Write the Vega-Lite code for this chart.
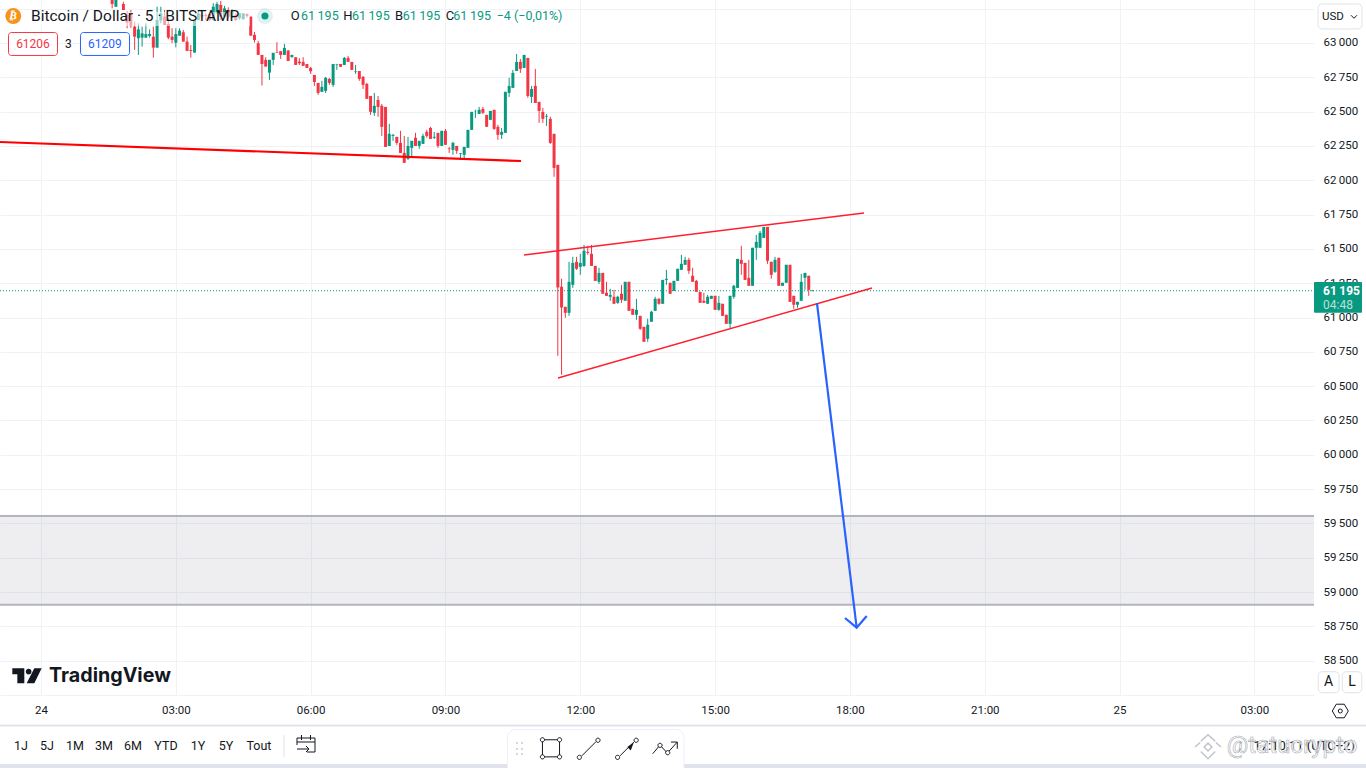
{"$schema":"https://vega.github.io/schema/vega-lite/v6.json","width":1314,"height":695,"autosize":{"type":"none"},"padding":{"left":0,"top":0,"right":52,"bottom":73},"background":"#ffffff","config":{"view":{"stroke":null},"text":{"font":"Roboto"}},
"encoding":{"x":{"type":"quantitative","title":null,"scale":{"domain":[-54.74,1699.6],"nice":false,"zero":false,"padding":0},"axis":{"orient":"bottom","values":[0,180,360,540,720,900,1080,1260,1440,1620],"labelExpr":"datum.value==0?'24':datum.value==1440?'25':format((datum.value%1440)/60,'02')+':00'","grid":true,"gridColor":"#f0f2f6","gridWidth":1,"domain":true,"domainColor":"#f0f2f6","domainWidth":1,"ticks":false,"labelFont":"Roboto","labelFontSize":11.5,"labelColor":"#131722","labelPadding":9,"labelAngle":0,"title":null}},"y":{"type":"quantitative","title":null,"scale":{"domain":[58250,63313],"nice":false,"zero":false,"padding":0},"axis":{"orient":"right","values":[58500,58750,59000,59250,59500,59750,60000,60250,60500,60750,61000,61250,61500,61750,62000,62250,62500,62750,63000,63250],"labelExpr":"datum.value>=63250?'':replace(format(datum.value,','),',','\u2009')","grid":true,"gridColor":"#f0f2f6","gridWidth":1,"domain":false,"ticks":false,"labelFont":"Roboto","labelFontSize":11.5,"labelColor":"#131722","labelPadding":9,"title":null}}},
"datasets":{
"zone":[{"t0":-54.74,"t1":1699.6,"p0":58907.8,"p1":59554}],
"price":[{"t0":-54.74,"t1":1699.6,"p":61195}],
"heavy":[{"t":-54.74,"p":62278.5},{"t":640.9,"p":62140.1}],
"thin":[{"id":"a","t":644.9,"p":61455.3},{"id":"a","t":1098.8,"p":61761.3},{"id":"b","t":690.3,"p":60559.3},{"id":"b","t":1109.5,"p":61215}],
"arrow":[{"id":"a","t":1036,"p":61105.6},{"id":"a","t":1089,"p":58740.2},{"id":"b","t":1073.4,"p":58810.9},{"id":"b","t":1089,"p":58740.2},{"id":"b","t":1102.4,"p":58825.4}],
"candles":[
{"t":95,"o":63335,"h":63345,"l":63252,"c":63284},{"t":100,"o":63264,"h":63340,"l":63264,"c":63325},{"t":105,"o":63330,"h":63350,"l":63320,"c":63345},{"t":110,"o":63284,"h":63300,"l":63240,"c":63240},{"t":115,"o":63204,"h":63230,"l":63107,"c":63148},{"t":120,"o":63216,"h":63240,"l":63110,"c":63124},{"t":125,"o":63119,"h":63155,"l":62949,"c":63046},{"t":130,"o":63034,"h":63143,"l":62913,"c":63099},{"t":135,"o":63039,"h":63119,"l":62973,"c":63070},{"t":140,"o":63039,"h":63143,"l":63039,"c":63065},{"t":145,"o":63051,"h":63099,"l":63039,"c":63065},{"t":150,"o":63046,"h":63119,"l":62893,"c":62966},{"t":155,"o":62966,"h":63264,"l":62966,"c":63167},{"t":160,"o":63163,"h":63264,"l":63143,"c":63216},{"t":165,"o":63192,"h":63240,"l":63131,"c":63131},{"t":170,"o":63138,"h":63180,"l":63027,"c":63039},{"t":175,"o":63046,"h":63107,"l":62998,"c":63022},{"t":180,"o":63002,"h":63107,"l":62968,"c":63065},{"t":185,"o":63053,"h":63107,"l":63053,"c":63090},{"t":190,"o":63078,"h":63095,"l":63010,"c":63010},{"t":195,"o":63010,"h":63046,"l":62942,"c":62942},{"t":200,"o":62949,"h":62985,"l":62893,"c":62942},{"t":205,"o":62930,"h":63167,"l":62930,"c":63167},{"t":210,"o":63167,"h":63230,"l":63167,"c":63216},{"t":215,"o":63204,"h":63216,"l":63180,"c":63192},{"t":220,"o":63204,"h":63216,"l":63167,"c":63197},{"t":225,"o":63211,"h":63220,"l":63160,"c":63167},{"t":230,"o":63167,"h":63290,"l":63160,"c":63264},{"t":235,"o":63216,"h":63300,"l":63216,"c":63284},{"t":240,"o":63277,"h":63306,"l":63167,"c":63192},{"t":245,"o":63192,"h":63270,"l":63180,"c":63252},{"t":250,"o":63240,"h":63260,"l":63180,"c":63192},{"t":255,"o":63187,"h":63245,"l":63180,"c":63228},{"t":260,"o":63204,"h":63215,"l":63160,"c":63167},{"t":265,"o":63180,"h":63216,"l":63170,"c":63216},{"t":270,"o":63172,"h":63216,"l":63172,"c":63216},{"t":275,"o":63211,"h":63216,"l":63185,"c":63197},{"t":280,"o":63192,"h":63192,"l":63053,"c":63053},
{"t":285,"o":63059,"h":63080,"l":63003,"c":63022},{"t":290,"o":62998,"h":63015,"l":62913,"c":62913},{"t":295,"o":62913,"h":62913,"l":62690,"c":62847},{"t":300,"o":62877,"h":62896,"l":62828,"c":62828},{"t":305,"o":62784,"h":62877,"l":62731,"c":62877},{"t":310,"o":62877,"h":62928,"l":62840,"c":62928},{"t":315,"o":62932,"h":63005,"l":62928,"c":62928},{"t":320,"o":62940,"h":62940,"l":62884,"c":62913},{"t":325,"o":62913,"h":62993,"l":62913,"c":62964},{"t":330,"o":62945,"h":62949,"l":62869,"c":62869},{"t":335,"o":62898,"h":62913,"l":62891,"c":62913},{"t":340,"o":62896,"h":62896,"l":62840,"c":62840},{"t":345,"o":62864,"h":62889,"l":62840,"c":62852},{"t":350,"o":62862,"h":62896,"l":62833,"c":62833},{"t":355,"o":62847,"h":62847,"l":62818,"c":62818},{"t":360,"o":62818,"h":62826,"l":62775,"c":62794},{"t":365,"o":62767,"h":62767,"l":62687,"c":62716},{"t":370,"o":62709,"h":62709,"l":62622,"c":62636},{"t":375,"o":62644,"h":62724,"l":62644,"c":62680},{"t":380,"o":62651,"h":62753,"l":62636,"c":62746},{"t":385,"o":62738,"h":62746,"l":62695,"c":62709},{"t":390,"o":62695,"h":62847,"l":62680,"c":62847},{"t":395,"o":62843,"h":62847,"l":62804,"c":62847},{"t":400,"o":62847,"h":62847,"l":62826,"c":62826},{"t":405,"o":62840,"h":62898,"l":62840,"c":62891},{"t":410,"o":62891,"h":62906,"l":62862,"c":62862},{"t":415,"o":62862,"h":62862,"l":62804,"c":62804},{"t":420,"o":62792,"h":62840,"l":62775,"c":62796},{"t":425,"o":62796,"h":62796,"l":62724,"c":62738},{"t":430,"o":62753,"h":62760,"l":62665,"c":62695},{"t":435,"o":62702,"h":62709,"l":62593,"c":62593},{"t":440,"o":62614,"h":62614,"l":62476,"c":62498},{"t":445,"o":62491,"h":62636,"l":62469,"c":62542},{"t":450,"o":62585,"h":62614,"l":62462,"c":62534},{"t":455,"o":62542,"h":62556,"l":62323,"c":62389},{"t":460,"o":62534,"h":62534,"l":62243,"c":62243},{"t":465,"o":62250,"h":62411,"l":62250,"c":62338},{"t":470,"o":62323,"h":62338,"l":62287,"c":62330},{"t":475,"o":62316,"h":62316,"l":62258,"c":62272},{"t":480,"o":62272,"h":62360,"l":62199,"c":62199},{"t":485,"o":62199,"h":62323,"l":62127,"c":62127},{"t":490,"o":62156,"h":62316,"l":62148,"c":62250},{"t":495,"o":62236,"h":62287,"l":62170,"c":62287},{"t":500,"o":62309,"h":62345,"l":62250,"c":62250},{"t":505,"o":62250,"h":62287,"l":62229,"c":62287},{"t":510,"o":62265,"h":62338,"l":62265,"c":62323},{"t":515,"o":62352,"h":62367,"l":62309,"c":62323},{"t":520,"o":62381,"h":62389,"l":62301,"c":62301},{"t":525,"o":62309,"h":62352,"l":62301,"c":62316},{"t":530,"o":62345,"h":62345,"l":62236,"c":62250},{"t":535,"o":62250,"h":62360,"l":62250,"c":62360},{"t":540,"o":62360,"h":62374,"l":62258,"c":62258},{"t":545,"o":62231,"h":62243,"l":62199,"c":62226},{"t":550,"o":62221,"h":62280,"l":62185,"c":62272},{"t":555,"o":62250,"h":62250,"l":62192,"c":62214},{"t":560,"o":62192,"h":62197,"l":62148,"c":62197},{"t":565,"o":62185,"h":62243,"l":62148,"c":62243},{"t":570,"o":62236,"h":62367,"l":62236,"c":62367},{"t":575,"o":62367,"h":62498,"l":62367,"c":62498},{"t":580,"o":62503,"h":62513,"l":62454,"c":62505},{"t":585,"o":62483,"h":62534,"l":62483,"c":62513},{"t":590,"o":62520,"h":62534,"l":62483,"c":62491},{"t":595,"o":62476,"h":62476,"l":62389,"c":62389},{"t":600,"o":62440,"h":62505,"l":62440,"c":62505},{"t":605,"o":62513,"h":62513,"l":62367,"c":62374},{"t":610,"o":62389,"h":62403,"l":62294,"c":62331},{"t":615,"o":62331,"h":62381,"l":62301,"c":62352},{"t":620,"o":62345,"h":62644,"l":62345,"c":62644},{"t":625,"o":62636,"h":62746,"l":62607,"c":62687},{"t":630,"o":62673,"h":62804,"l":62673,"c":62782},{"t":635,"o":62796,"h":62920,"l":62796,"c":62862},{"t":640,"o":62862,"h":62884,"l":62782,"c":62811},{"t":645,"o":62818,"h":62913,"l":62818,"c":62913},{"t":650,"o":62891,"h":62891,"l":62600,"c":62614},{"t":655,"o":62607,"h":62687,"l":62563,"c":62665},{"t":660,"o":62687,"h":62811,"l":62563,"c":62563},{"t":665,"o":62571,"h":62571,"l":62418,"c":62505},{"t":670,"o":62498,"h":62527,"l":62418,"c":62447},{"t":675,"o":62464,"h":62483,"l":62396,"c":62469},{"t":680,"o":62447,"h":62462,"l":62265,"c":62272},{"t":685,"o":62338,"h":62338,"l":62025,"c":62090},{"t":690,"o":62112,"h":62112,"l":60721,"c":61219},
{"t":695,"o":61224,"h":61282,"l":60583,"c":61073},{"t":700,"o":61078,"h":61078,"l":60998,"c":61034},{"t":705,"o":61034,"h":61406,"l":61012,"c":61260},{"t":710,"o":61238,"h":61442,"l":61216,"c":61398},{"t":715,"o":61406,"h":61442,"l":61347,"c":61355},{"t":720,"o":61369,"h":61464,"l":61311,"c":61398},{"t":725,"o":61376,"h":61529,"l":61369,"c":61486},{"t":730,"o":61478,"h":61522,"l":61457,"c":61471},{"t":735,"o":61464,"h":61529,"l":61376,"c":61376},{"t":740,"o":61376,"h":61376,"l":61267,"c":61267},{"t":745,"o":61260,"h":61362,"l":61245,"c":61325},{"t":750,"o":61325,"h":61325,"l":61173,"c":61173},{"t":755,"o":61180,"h":61260,"l":61158,"c":61158},{"t":760,"o":61151,"h":61209,"l":61122,"c":61165},{"t":765,"o":61151,"h":61202,"l":61100,"c":61100},{"t":770,"o":61107,"h":61158,"l":61100,"c":61151},{"t":775,"o":61173,"h":61238,"l":61107,"c":61129},{"t":780,"o":61122,"h":61260,"l":61122,"c":61260},{"t":785,"o":61260,"h":61260,"l":61049,"c":61049},{"t":790,"o":61063,"h":61063,"l":61020,"c":61020},{"t":795,"o":61020,"h":61136,"l":60983,"c":61056},{"t":800,"o":61012,"h":61012,"l":60910,"c":60918},{"t":805,"o":60932,"h":60932,"l":60823,"c":60823},{"t":810,"o":60845,"h":60991,"l":60823,"c":60947},{"t":815,"o":60969,"h":61049,"l":60969,"c":61042},{"t":820,"o":61049,"h":61151,"l":61049,"c":61136},{"t":825,"o":61136,"h":61143,"l":61093,"c":61100},{"t":830,"o":61100,"h":61274,"l":61100,"c":61274},{"t":835,"o":61274,"h":61347,"l":61238,"c":61282},{"t":840,"o":61253,"h":61253,"l":61173,"c":61173},{"t":845,"o":61194,"h":61267,"l":61194,"c":61267},{"t":850,"o":61267,"h":61355,"l":61267,"c":61355},{"t":855,"o":61347,"h":61457,"l":61347,"c":61391},{"t":860,"o":61384,"h":61442,"l":61384,"c":61420},{"t":865,"o":61420,"h":61435,"l":61318,"c":61340},{"t":870,"o":61304,"h":61362,"l":61260,"c":61260},{"t":875,"o":61267,"h":61274,"l":61187,"c":61187},{"t":880,"o":61187,"h":61187,"l":61107,"c":61107},{"t":885,"o":61122,"h":61180,"l":61107,"c":61107},{"t":890,"o":61100,"h":61165,"l":61100,"c":61151},{"t":895,"o":61136,"h":61158,"l":61136,"c":61158},{"t":900,"o":61158,"h":61158,"l":61056,"c":61056},{"t":905,"o":61056,"h":61158,"l":61049,"c":61107},{"t":910,"o":61100,"h":61100,"l":61012,"c":61012},{"t":915,"o":61020,"h":61020,"l":60954,"c":60954},{"t":920,"o":60954,"h":61158,"l":60918,"c":61158},{"t":925,"o":61151,"h":61238,"l":61136,"c":61231},{"t":930,"o":61216,"h":61427,"l":61216,"c":61427},{"t":935,"o":61420,"h":61522,"l":61311,"c":61391},{"t":940,"o":61398,"h":61398,"l":61274,"c":61274},{"t":945,"o":61289,"h":61420,"l":61231,"c":61231},{"t":950,"o":61231,"h":61508,"l":61231,"c":61508},{"t":955,"o":61508,"h":61602,"l":61420,"c":61551},{"t":960,"o":61508,"h":61631,"l":61508,"c":61617},{"t":965,"o":61580,"h":61660,"l":61580,"c":61660},{"t":970,"o":61660,"h":61660,"l":61391,"c":61413},{"t":975,"o":61406,"h":61406,"l":61282,"c":61311},{"t":980,"o":61333,"h":61442,"l":61325,"c":61420},{"t":985,"o":61435,"h":61435,"l":61231,"c":61231},{"t":990,"o":61231,"h":61253,"l":61231,"c":61253},{"t":995,"o":61253,"h":61384,"l":61253,"c":61384},{"t":1000,"o":61384,"h":61384,"l":61114,"c":61114},{"t":1005,"o":61158,"h":61158,"l":61063,"c":61093},{"t":1010,"o":61093,"h":61114,"l":61071,"c":61114},{"t":1015,"o":61122,"h":61318,"l":61122,"c":61260},{"t":1020,"o":61289,"h":61325,"l":61202,"c":61325},{"t":1025,"o":61304,"h":61304,"l":61158,"c":61202},{"t":1030,"o":61192,"h":61198,"l":61192,"c":61198}],
"fade":[{"t0":-54.74,"t1":279,"p0":63123.6,"p1":63225.6}]
},
"layer":[
{"data":{"name":"zone"},"mark":{"type":"rect","fill":"#70708a","opacity":0.12},"encoding":{"x":{"field":"t0"},"x2":{"field":"t1"},"y":{"field":"p0"},"y2":{"field":"p1"}}},
{"data":{"name":"zone"},"mark":{"type":"rule","stroke":"#b2b5be","strokeWidth":2},"encoding":{"x":{"field":"t0"},"x2":{"field":"t1"},"y":{"field":"p0"}}},
{"data":{"name":"zone"},"mark":{"type":"rule","stroke":"#b2b5be","strokeWidth":2},"encoding":{"x":{"field":"t0"},"x2":{"field":"t1"},"y":{"field":"p1"}}},
{"data":{"name":"price"},"mark":{"type":"rule","stroke":"#089981","strokeWidth":1,"strokeDash":[1,2]},"encoding":{"x":{"field":"t0"},"x2":{"field":"t1"},"y":{"field":"p"}}},
{"data":{"name":"candles"},"mark":{"type":"rule","strokeWidth":1},"encoding":{"x":{"field":"t"},"y":{"field":"h"},"y2":{"field":"l"},"color":{"condition":{"test":"datum.c>=datum.o","value":"#089981"},"value":"#F23645"}}},
{"data":{"name":"candles"},"mark":{"type":"bar","size":3,"orient":"vertical"},"encoding":{"x":{"field":"t"},"y":{"field":"o"},"y2":{"field":"c"},"color":{"condition":{"test":"datum.c>=datum.o","value":"#089981"},"value":"#F23645"}}},
{"data":{"name":"heavy"},"mark":{"type":"line","stroke":"#ff0000","strokeWidth":2.2},"encoding":{"x":{"field":"t"},"y":{"field":"p"}}},
{"data":{"name":"thin"},"mark":{"type":"line","stroke":"#ff1f2d","strokeWidth":1.5},"encoding":{"x":{"field":"t"},"y":{"field":"p"},"detail":{"field":"id"}}},
{"data":{"name":"arrow"},"mark":{"type":"line","stroke":"#2962ff","strokeWidth":2.2},"encoding":{"x":{"field":"t"},"y":{"field":"p"},"detail":{"field":"id"}}},
{"data":{"name":"fade"},"mark":{"type":"rect","fill":"#ffffff","opacity":0.55},"encoding":{"x":{"field":"t0"},"x2":{"field":"t1"},"y":{"field":"p0"},"y2":{"field":"p1"}}},

{"data":{"values":[{"t0":-54.74,"t1":1769,"p0":57667,"p1":57747}]},"mark":{"type":"rect","fill":"#e0e3eb"},"encoding":{"x":{"field":"t0"},"x2":{"field":"t1"},"y":{"field":"p0"},"y2":{"field":"p1"}}},
{"data":{"values":[{"t0":-54.74,"t1":1769,"p":58027.7}]},"mark":{"type":"rule","stroke":"#e0e3eb","strokeWidth":2},"encoding":{"x":{"field":"t0"},"x2":{"field":"t1"},"y":{"field":"p"}}},
{"data":{"values":[{"t":324.4,"p0":57798.3,"p1":57958.5}]},"mark":{"type":"rule","stroke":"#e0e3eb","strokeWidth":1},"encoding":{"x":{"field":"t"},"y":{"field":"p0"},"y2":{"field":"p1"}}},

{"data":{"values":[{"t0":-43.4,"t1":22,"p0":62909,"p1":63076}]},"mark":{"type":"rect","fill":"#ffffff","stroke":"#f23645","strokeWidth":1,"cornerRadius":3},"encoding":{"x":{"field":"t0"},"x2":{"field":"t1"},"y":{"field":"p0"},"y2":{"field":"p1"}}},
{"data":{"values":[{"t0":52.7,"t1":118.2,"p0":62909,"p1":63076}]},"mark":{"type":"rect","fill":"#ffffff","stroke":"#2962ff","strokeWidth":1,"cornerRadius":3},"encoding":{"x":{"field":"t0"},"x2":{"field":"t1"},"y":{"field":"p0"},"y2":{"field":"p1"}}},
{"data":{"values":[{"t0":1705,"t1":1763.7,"p0":63102,"p1":63284},{"t0":1705.3,"t1":1733,"p0":58266.7,"p1":58419.7},{"t0":1737.4,"t1":1763.3,"p0":58266.7,"p1":58419.7}]},"mark":{"type":"rect","fill":"#ffffff","stroke":"#e0e3eb","strokeWidth":1,"cornerRadius":4},"encoding":{"x":{"field":"t0"},"x2":{"field":"t1"},"y":{"field":"p0"},"y2":{"field":"p1"}}},
{"data":{"values":[{"t0":1699.6,"t1":1763.7,"p0":61035,"p1":61258.6}]},"mark":{"type":"rect","fill":"#089981","cornerRadius":1},"encoding":{"x":{"field":"t0"},"x2":{"field":"t1"},"y":{"field":"p0"},"y2":{"field":"p1"}}},
{"data":{"values":[{"t0":622.8,"t1":858.5,"p0":57667,"p1":57998.6}]},"mark":{"type":"rect","fill":"#ffffff","stroke":"#eef0f5","strokeWidth":1,"cornerRadius":8},"encoding":{"x":{"field":"t0"},"x2":{"field":"t1"},"y":{"field":"p0"},"y2":{"field":"p1"}}},

{"data":{"values":[{"t":-37,"p":63196}]},"mark":{"type":"point","shape":"circle","filled":true,"size":254,"fill":"#f7931a","opacity":1},"encoding":{"x":{"field":"t"},"y":{"field":"p"}}},
{"data":{"values":[{"t":-37,"p":63196,"s":"₿"}]},"mark":{"type":"text","font":"DejaVu Sans","fontWeight":"bold","fontSize":11,"fill":"#ffffff","align":"center","baseline":"middle","angle":12},"encoding":{"x":{"field":"t"},"y":{"field":"p"},"text":{"field":"s"}}},
{"data":{"values":[{"t":299,"p":63196}]},"mark":{"type":"point","shape":"circle","filled":true,"size":254,"fill":"#089981","opacity":0.13},"encoding":{"x":{"field":"t"},"y":{"field":"p"}}},
{"data":{"values":[{"t":299,"p":63196}]},"mark":{"type":"point","shape":"circle","filled":true,"size":50,"fill":"#089981","opacity":1},"encoding":{"x":{"field":"t"},"y":{"field":"p"}}},

{"data":{"values":[{"t":-13.35,"p":63196,"s":"Bitcoin / Dollar · 5 · BITSTAMP"}]},"mark":{"type":"text","fontSize":15.5,"fill":"#131722","align":"left","baseline":"middle"},"encoding":{"x":{"field":"t"},"y":{"field":"p"},"text":{"field":"s"}}},
{"data":{"values":[{"t":333.4,"p":63196,"s":"O"},{"t":403.6,"p":63196,"s":"H"},{"t":472.6,"p":63196,"s":"B"},{"t":540.3,"p":63196,"s":"C"}]},"mark":{"type":"text","fontSize":13,"fill":"#131722","align":"left","baseline":"middle"},"encoding":{"x":{"field":"t"},"y":{"field":"p"},"text":{"field":"s"}}},
{"data":{"values":[{"t":347.1,"p":63196,"s":"61\u2009195"},{"t":415.2,"p":63196,"s":"61\u2009195"},{"t":482.9,"p":63196,"s":"61\u2009195"},{"t":550.5,"p":63196,"s":"61\u2009195"},{"t":608.4,"p":63196,"s":"−4 (−0,01%)"}]},"mark":{"type":"text","fontSize":12.5,"fill":"#089981","align":"left","baseline":"middle"},"encoding":{"x":{"field":"t"},"y":{"field":"p"},"text":{"field":"s"}}},
{"data":{"values":[{"t":-10.7,"p":62996,"s":"61206"}]},"mark":{"type":"text","fontSize":12,"fill":"#f23645","align":"center","baseline":"middle"},"encoding":{"x":{"field":"t"},"y":{"field":"p"},"text":{"field":"s"}}},
{"data":{"values":[{"t":85.4,"p":62996,"s":"61209"}]},"mark":{"type":"text","fontSize":12,"fill":"#2962ff","align":"center","baseline":"middle"},"encoding":{"x":{"field":"t"},"y":{"field":"p"},"text":{"field":"s"}}},
{"data":{"values":[{"t":36.7,"p":62996,"s":"3"}]},"mark":{"type":"text","fontSize":12,"fill":"#131722","align":"center","baseline":"middle"},"encoding":{"x":{"field":"t"},"y":{"field":"p"},"text":{"field":"s"}}},
{"data":{"values":[{"t":1710.3,"p":63191,"s":"USD"}]},"mark":{"type":"text","fontSize":11.5,"fill":"#131722","align":"left","baseline":"middle"},"encoding":{"x":{"field":"t"},"y":{"field":"p"},"text":{"field":"s"}}},
{"data":{"values":[{"t":1753,"p":63191}]},"mark":{"type":"point","shape":"M-1,-0.5 L0,0.5 L1,-0.5","size":36,"stroke":"#131722","strokeWidth":1,"fill":"transparent","opacity":1},"encoding":{"x":{"field":"t"},"y":{"field":"p"}}},
{"data":{"values":[{"t":1718.9,"p":58344.6,"s":"A"},{"t":1750.3,"p":58344.6,"s":"L"}]},"mark":{"type":"text","fontSize":14,"fill":"#131722","align":"center","baseline":"middle"},"encoding":{"x":{"field":"t"},"y":{"field":"p"},"text":{"field":"s"}}},
{"data":{"values":[{"t":1734.7,"p":58133.4}]},"mark":{"type":"point","shape":"M-1,0 L-0.5,-0.85 L0.5,-0.85 L1,0 L0.5,0.85 L-0.5,0.85Z","size":256,"stroke":"#131722","strokeWidth":1,"fill":"transparent","opacity":1},"encoding":{"x":{"field":"t"},"y":{"field":"p"}}},
{"data":{"values":[{"t":1734.7,"p":58133.4}]},"mark":{"type":"point","shape":"circle","size":16,"stroke":"#131722","strokeWidth":1,"fill":"transparent","opacity":1},"encoding":{"x":{"field":"t"},"y":{"field":"p"}}},
{"data":{"values":[{"t":1711.7,"p":61196.7,"s":"61\u2009195"}]},"mark":{"type":"text","fontSize":12,"fontWeight":"bold","fill":"#ffffff","align":"left","baseline":"middle"},"encoding":{"x":{"field":"t"},"y":{"field":"p"},"text":{"field":"s"}}},
{"data":{"values":[{"t":1711.7,"p":61094.7,"s":"04:48"}]},"mark":{"type":"text","fontSize":12,"fill":"#b8e0d8","align":"left","baseline":"middle"},"encoding":{"x":{"field":"t"},"y":{"field":"p"},"text":{"field":"s"}}},

{"data":{"values":[{"t":10.7,"p":58388,"s":"TradingView"}]},"mark":{"type":"text","font":"Inter","fontWeight":"bold","fontSize":19.7,"fill":"#131722","align":"left","baseline":"middle"},"encoding":{"x":{"field":"t"},"y":{"field":"p"},"text":{"field":"s"}}},
{"data":{"values":[{"t":-18.7,"p":58389.8}]},"mark":{"type":"point","shape":"M-.978,-.498 L-.178,-.498 L-.178,.502 L-.644,.502 L-.644,-.098 L-.978,-.098Z M.489,-.498 L.978,-.498 L.489,.502 L-.022,.502Z M-.08,-.275 a.19,.19 0 1,0 .38,0 a.19,.19 0 1,0 -.38,0Z","size":900,"filled":true,"fill":"#131722","opacity":1},"encoding":{"x":{"field":"t"},"y":{"field":"p"}}},

{"data":{"values":[{"t":-26.7,"s":"1J","p":57882},{"t":8,"s":"5J","p":57882},{"t":45.4,"s":"1M","p":57882},{"t":84.1,"s":"3M","p":57882},{"t":122.8,"s":"6M","p":57882},{"t":166.9,"s":"YTD","p":57882},{"t":209.6,"s":"1Y","p":57882},{"t":247,"s":"5Y","p":57882},{"t":291,"s":"Tout","p":57882}]},"mark":{"type":"text","fontSize":12.5,"fill":"#131722","align":"center","baseline":"middle"},"encoding":{"x":{"field":"t"},"y":{"field":"p"},"text":{"field":"s"}}},
{"data":{"values":[{"t":353.8,"p":57893}]},"mark":{"type":"point","shape":"M-0.9,0.1 V-0.6 H0.9 V0.8 H0.1 M-0.9,-0.2 H0.9 M-0.45,-0.9 V-0.4 M0.45,-0.9 V-0.4 M-0.9,0.5 H0.3 M0,0.2 L0.3,0.5 L0,0.8","size":400,"stroke":"#131722","strokeWidth":1,"fill":"transparent","opacity":1},"encoding":{"x":{"field":"t"},"y":{"field":"p"}}},
{"data":{"values":[{"t":635.5,"p":57900.3},{"t":642.2,"p":57900.3},{"t":635.5,"p":57856.6},{"t":642.2,"p":57856.6},{"t":635.5,"p":57820},{"t":642.2,"p":57820}]},"mark":{"type":"point","shape":"circle","filled":true,"size":4,"fill":"#c8cbd3","opacity":1},"encoding":{"x":{"field":"t"},"y":{"field":"p"}}},
{"data":{"values":[{"t":680.9,"p":57861.6}]},"mark":{"type":"point","shape":"M-.43,-.57 H.43 M.57,-.43 V.43 M.43,.57 H-.43 M-.57,.43 V-.43 M-.71,-.57 a.14,.14 0 1,0 .28,0 a.14,.14 0 1,0 -.28,0Z M.43,-.57 a.14,.14 0 1,0 .28,0 a.14,.14 0 1,0 -.28,0Z M.43,.57 a.14,.14 0 1,0 .28,0 a.14,.14 0 1,0 -.28,0Z M-.71,.57 a.14,.14 0 1,0 .28,0 a.14,.14 0 1,0 -.28,0Z","size":900,"stroke":"#131722","strokeWidth":1,"fill":"transparent","opacity":1},"encoding":{"x":{"field":"t"},"y":{"field":"p"}}},
{"data":{"values":[{"t":731.4,"p":57858},{"t":782.4,"p":57858}]},"mark":{"type":"point","shape":"M-.47,.47 L.47,-.47 M.47,-.57 a.14,.14 0 1,0 .28,0 a.14,.14 0 1,0 -.28,0Z M-.77,.57 a.14,.14 0 1,0 .28,0 a.14,.14 0 1,0 -.28,0Z","size":900,"stroke":"#131722","strokeWidth":1,"fill":"transparent","opacity":1},"encoding":{"x":{"field":"t"},"y":{"field":"p"}}},
{"data":{"values":[{"t":782.4,"p":57858}]},"mark":{"type":"point","shape":"M.45,-.42 L.25,.12 L.02,-.12Z","size":900,"filled":true,"fill":"#131722","opacity":1},"encoding":{"x":{"field":"t"},"y":{"field":"p"}}},
{"data":{"values":[{"t":833.1,"p":57863.6}]},"mark":{"type":"point","shape":"M-.82,.38 L-.43,-.08 M-.23,-.08 L.08,.25 M.28,.2 L.82,-.4 M.4,-.4 H.82 V.05 M-.47,-.18 a.14,.14 0 1,0 .28,0 a.14,.14 0 1,0 -.28,0Z M.04,.31 a.14,.14 0 1,0 .28,0 a.14,.14 0 1,0 -.28,0Z","size":900,"stroke":"#131722","strokeWidth":1,"fill":"transparent","opacity":1},"encoding":{"x":{"field":"t"},"y":{"field":"p"}}},

{"data":{"values":[{"t":1754.3,"p":57882,"s":"17:10:11 (UTC+2)"}]},"mark":{"type":"text","fontSize":13,"fill":"#131722","align":"right","baseline":"middle"},"encoding":{"x":{"field":"t"},"y":{"field":"p"},"text":{"field":"s"}}},
{"data":{"values":[{"t":1583.2,"p":57875,"s":"@tatucrypto"}]},"mark":{"type":"text","fontSize":24,"fill":"#ffffff","stroke":"#a8abb3","strokeWidth":0.6,"fillOpacity":0.75,"align":"left","baseline":"middle"},"encoding":{"x":{"field":"t"},"y":{"field":"p"},"text":{"field":"s"}}},
{"data":{"values":[{"t":1558.1,"p":57871}]},"mark":{"type":"point","shape":"M-.55,-.45 L0,-.95 L.55,-.45 M-1,0 L-.6,-.35 M1,0 L.6,-.35 M-.3,0 L0,-.3 L.3,0 L0,.3Z M-.55,.35 L0,.9 L.55,.35","size":676,"stroke":"#c3c5cc","strokeWidth":1.5,"fill":"transparent","opacity":1},"encoding":{"x":{"field":"t"},"y":{"field":"p"}}}
]}
